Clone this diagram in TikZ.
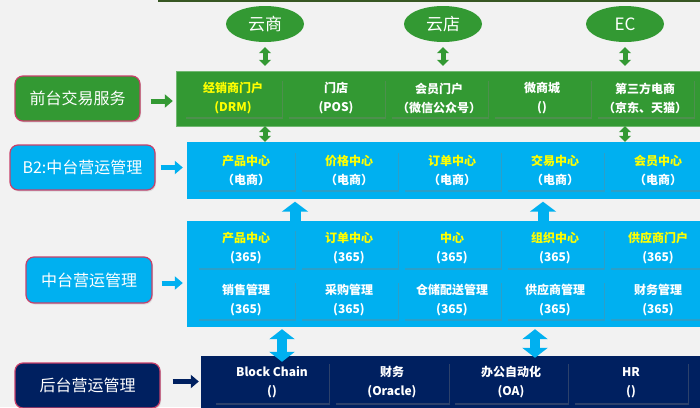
\documentclass[tikz,border=0pt]{standalone}
\usepackage{fontspec}
\setmainfont{Noto Sans CJK SC}
\usepackage{tikz}
\usetikzlibrary{arrows.meta, shapes.geometric, shadows}

\definecolor{bggray}{HTML}{F2F2F2}
\definecolor{frontgreen}{HTML}{339933}
\definecolor{topgreen}{HTML}{385723}
\definecolor{midblue}{HTML}{00B0F0}
\definecolor{backnavy}{HTML}{002060}
\definecolor{lblborder}{HTML}{C8406A}
\definecolor{ttlyellow}{HTML}{FFFF00}

\tikzset{
  lbl/.style={draw=lblborder, line width=1.2pt, rounded corners=8pt, text=white,
    font=\fontsize{16}{18}\selectfont, minimum height=45pt, inner sep=0pt,
    drop shadow={shadow xshift=1pt, shadow yshift=-1.5pt, opacity=.2}},
  cloudnode/.style={ellipse, fill=frontgreen, text=white, minimum width=78pt,
    minimum height=36pt, inner sep=0pt, font=\fontsize{17}{19}\selectfont},
  frame/.style={rectangle, inner sep=0pt},
  cell/.style={rectangle, minimum width=97pt, minimum height=38pt, inner sep=0pt,
    align=center, font=\bfseries\fontsize{12}{19}\selectfont,
    drop shadow={shadow xshift=1pt, shadow yshift=-1.5pt, opacity=.35}},
  rarrow/.style={line width=5pt, -{Triangle[width=13pt,length=8pt]}},
  dblsmall/.style={frontgreen, line width=5pt,
    {Triangle[width=12pt,length=6pt]}-{Triangle[width=12pt,length=6pt]}},
  uparrow/.style={midblue, line width=11pt, -{Triangle[width=26pt,length=10pt]}},
  dblbig/.style={midblue, line width=10pt,
    {Triangle[width=25pt,length=10pt]}-{Triangle[width=25pt,length=10pt]}}
}

\begin{document}
\begin{tikzpicture}[x=1pt, y=-1pt]
\useasboundingbox (0,0) rectangle (700,407);
% background
\fill[bggray] (0,0) rectangle (700,407);
\fill[topgreen] (158,0) rectangle (700,1.5);

% layer frames
\node[frame, fill=frontgreen, draw=frontgreen!70!white, minimum width=534pt, minimum height=55pt] (front) at (443,98.5) {};
\node[frame, fill=midblue, minimum width=523pt, minimum height=57pt] (b2) at (448.5,170.5) {};
\node[frame, fill=midblue, minimum width=523pt, minimum height=106pt] (mid) at (448.5,274) {};
\node[frame, fill=backnavy, minimum width=509pt, minimum height=54pt] (back) at (455.5,383) {};

% clouds on top
\foreach \x/\descr/\nm in {265/云商/yunshang, 443/云店/yundian, 625/EC/ec}{
  \node[cloudnode] (\nm) at (\x,24) {\descr};
  \draw[dblsmall, shorten <=5pt, shorten >=5pt] (\nm.south) -- (\nm.south |- front.north);
}
\draw[dblsmall] (yunshang |- front.south) -- (yunshang |- b2.north);
\draw[dblsmall] (ec |- front.south) -- (ec |- b2.north);

% front cells
\foreach \x/\ttl/\sub/\tcol/\scol [count=\i] in {233/经销商门户/{(DRM)}/ttlyellow/ttlyellow,
  336/门店/{(POS)}/white/white, 439/会员门户/{（微信公众号）}/white/white,
  542/微商城/{()}/white/white, 645/第三方电商/{（京东、天猫）}/white/white}
\node[cell, fill=frontgreen] (fcell\i) at (\x,98) {\textcolor{\tcol}{\ttl}\\\textcolor{\scol}{\sub}};

% B2 cells
\foreach \x/\ttl [count=\i] in {246/产品中心, 349/价格中心, 452/订单中心, 555/交易中心, 658/会员中心}
\node[cell, fill=midblue, minimum height=39pt] (bcell\i) at (\x,170.5) {\textcolor{ttlyellow}{\ttl}\\\textcolor{white}{（电商）}};

% middle cells
\foreach \x/\ttl [count=\i] in {246/产品中心, 349/订单中心, 452/中心, 555/组织中心, 658/供应商门户}
\node[cell, fill=midblue, minimum height=39pt] (mcell\i) at (\x,248.5) {\textcolor{ttlyellow}{\ttl}\\\textcolor{white}{(365)}};
\foreach \x/\ttl [count=\i] in {246/销售管理, 349/采购管理, 452/仓储配送管理, 555/供应商管理, 658/财务管理}
\node[cell, fill=midblue] (ncell\i) at (\x,300) {\textcolor{white}{\ttl}\\\textcolor{white}{(365)}};

% back cells
\foreach \x/\ttl/\sub [count=\i] in {272/Block Chain/{()}, 392/财务/{(Oracle)}, 511/办公自动化/{(OA)}, 631/HR/{()}}
\node[cell, fill=backnavy, text=white, minimum width=114pt, minimum height=41pt] (kcell\i) at (\x,382.5) {\ttl\\\sub};

% arrows between layers
\coordinate (upA) at (295,0);
\coordinate (upB) at (543,0);
\draw[uparrow, shorten >=2.5pt] (upA |- mid.north) -- (upA |- b2.south);
\draw[uparrow, shorten >=2.5pt] (upB |- mid.north) -- (upB |- b2.south);
\coordinate (dbA) at (282,0);
\coordinate (dbB) at (535,0);
\draw[dblbig, shorten <=2pt, shorten >=-6pt] (dbA |- mid.south) -- (dbA |- back.north);
\draw[dblbig, shorten <=2pt, shorten >=-2pt] (dbB |- mid.south) -- (dbB |- back.north);

% layer labels
\node[lbl, fill=frontgreen, minimum width=125pt] (lblfront) at (77.5,98.5) {前台交易服务};
\node[lbl, fill=midblue, minimum width=145pt] (lblb2) at (82.5,167.5) {B2:中台营运管理};
\node[lbl, fill=midblue, minimum width=126pt, minimum height=46pt] (lblmid) at (89,280) {中台营运管理};
\node[lbl, fill=backnavy, minimum width=145pt] (lblback) at (87.5,385.5) {后台营运管理};

% label arrows
\draw[rarrow, frontgreen, shorten <=10pt, shorten >=3pt] ([yshift=-2.5pt]lblfront.east) -- ([yshift=-2.5pt]lblfront.east -| front.west);
\draw[rarrow, midblue, shorten <=5pt, shorten >=4pt] (lblb2.east) -- (lblb2.east -| b2.west);
\draw[rarrow, midblue, shorten <=9pt, shorten >=4pt] ([yshift=-3pt]lblmid.east) -- ([yshift=-3pt]lblmid.east -| mid.west);
\draw[rarrow, backnavy, shorten <=12pt, shorten >=2pt] ([yshift=4pt]lblback.east) -- ([yshift=4pt]lblback.east -| back.west);
\end{tikzpicture}
\end{document}
